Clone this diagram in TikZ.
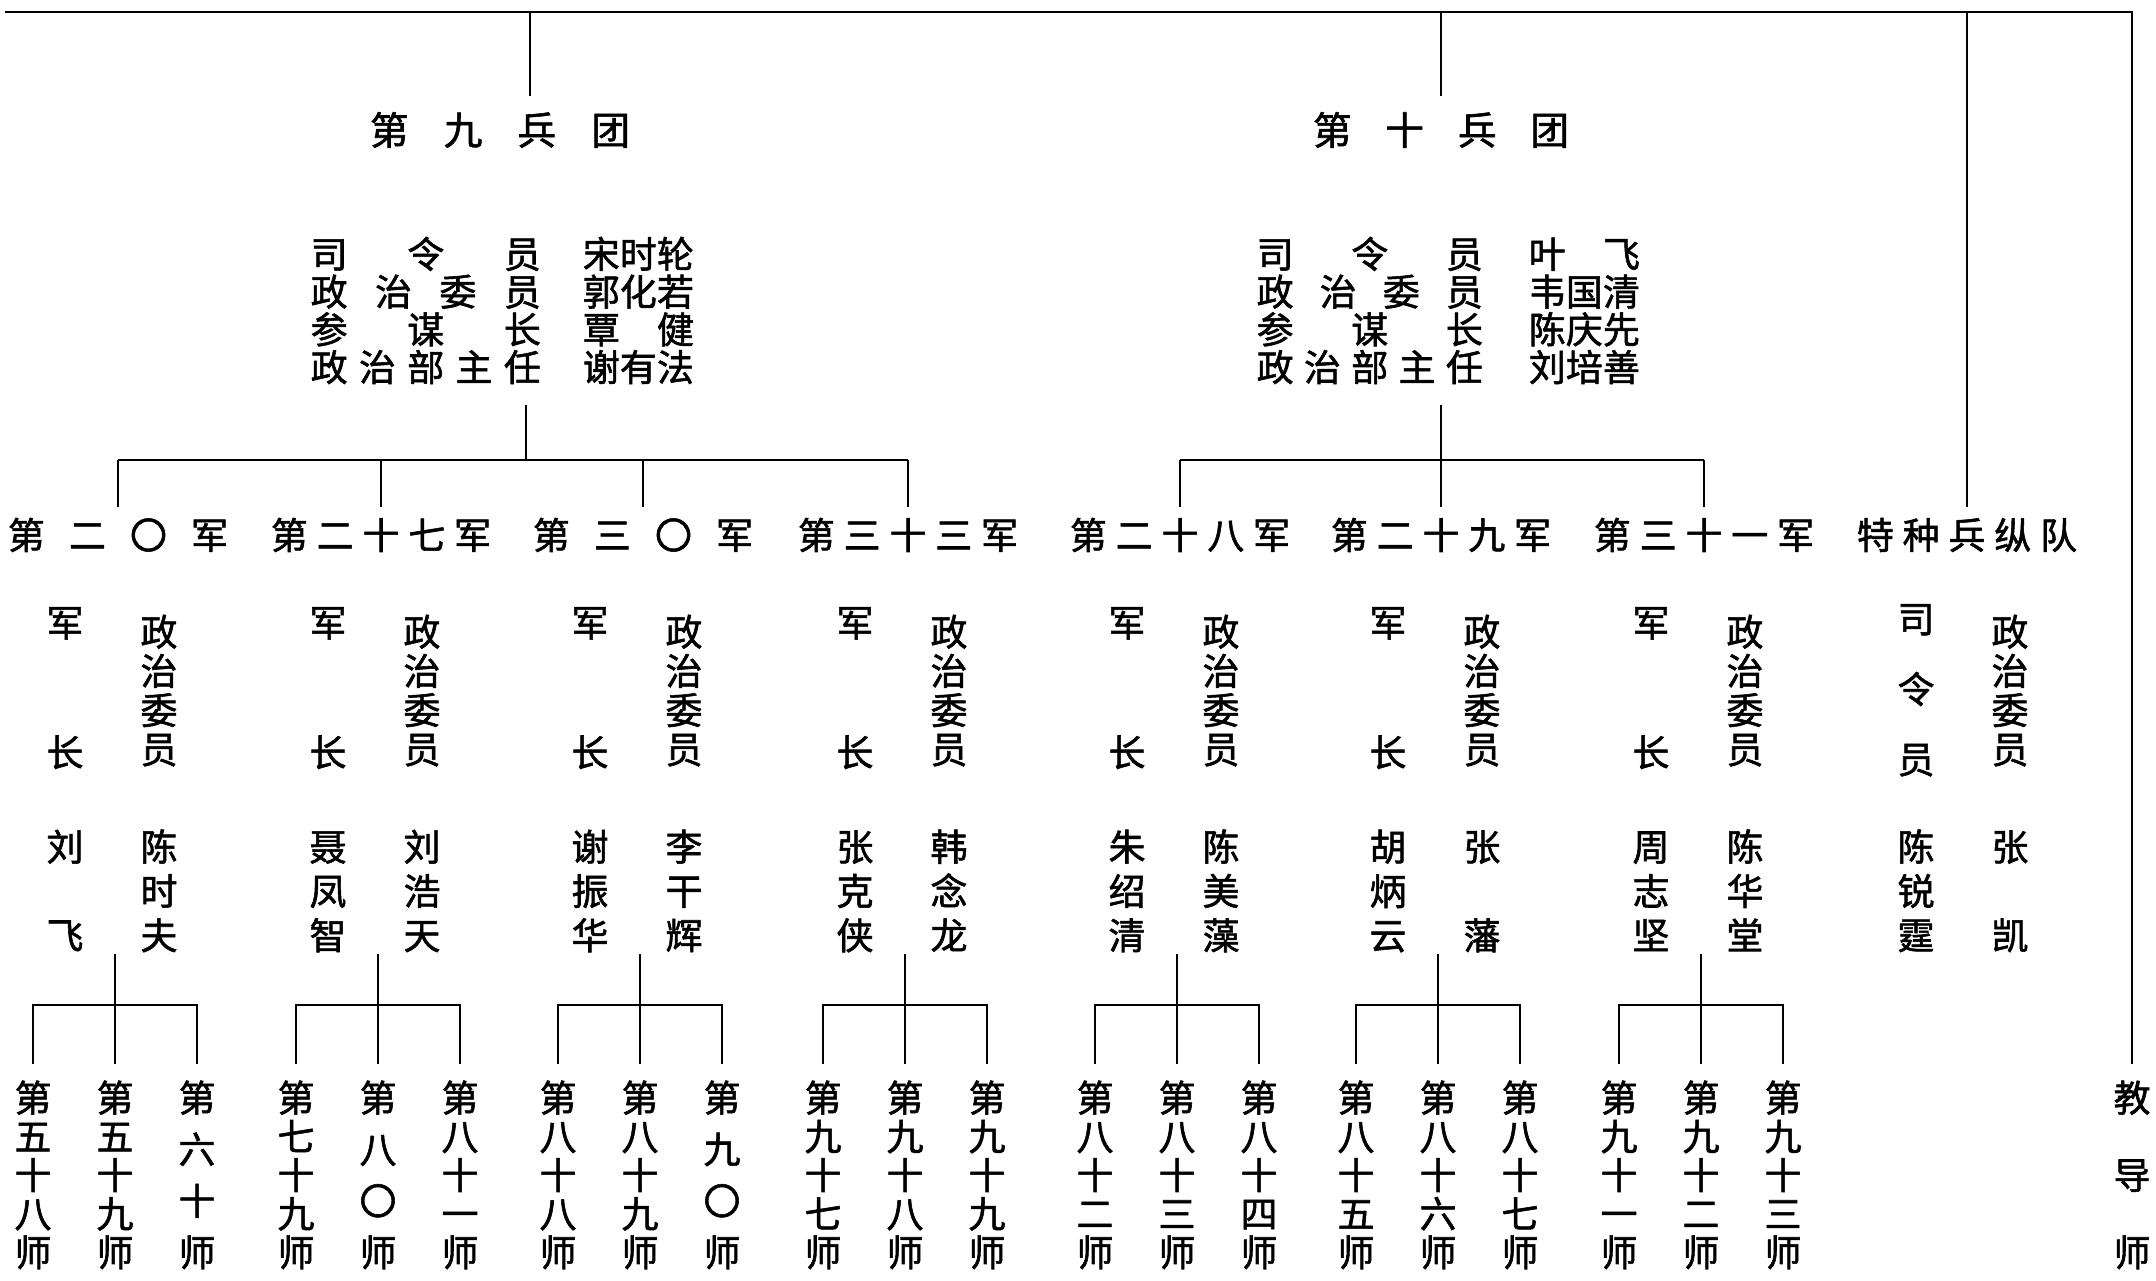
\documentclass[tikz,border=0pt]{standalone}
\usepackage{fontspec}
\newfontfamily\cjk[FakeBold=1.5]{Noto Sans CJK SC}
\usetikzlibrary{positioning}
\makeatletter
% one character on a fixed em box
\newcommand{\zi}[1]{\hbox{\vrule height .88em depth .12em width 0pt\relax #1}}
% characters spread across a given width
\newcommand{\hengpai}[2]{\hbox to #1{\edef\heng@tmp{#2}\expandafter\heng@a\heng@tmp\@nil}}
\def\heng@a#1{\zi{#1}\heng@b}
\def\heng@b#1{\ifx#1\@nil\else\hfill\zi{#1}\expandafter\heng@b\fi}
% characters spread down a given height
\newcommand{\shupai}[2]{\vbox to #1{\offinterlineskip\edef\shu@tmp{#2}\expandafter\shu@a\shu@tmp\@nil}}
\def\shu@a#1{\zi{#1}\shu@b}
\def\shu@b#1{\ifx#1\@nil\else\vfill\zi{#1}\expandafter\shu@b\fi}
\makeatother
\tikzset{conn/.style={line width=0.6pt}}
\tikzset{topline/.style={line width=0.8pt}}
\tikzset{corps/.style={inner sep=0pt,outer ysep=0.15cm,font=\cjk\fontsize{11}{12}\selectfont}}
\tikzset{staff/.style={inner sep=0pt,outer ysep=0.19cm,align=left,font=\cjk\fontsize{10.5}{10.73}\selectfont}}
\tikzset{army/.style={inner sep=0pt,outer ysep=0.1cm,font=\cjk\fontsize{10.5}{11}\selectfont}}
\tikzset{officer/.style={inner sep=0pt,font=\cjk\fontsize{10.5}{11}\selectfont}}
\tikzset{division/.style={inner sep=0pt,outer ysep=0.15cm,font=\cjk\fontsize{10.5}{11}\selectfont}}

\begin{document}
\begin{tikzpicture}[x=0.01cm,y=-0.01cm]
  \useasboundingbox (0,0) rectangle (2156,1281);
  \coordinate (topl) at (5,12);
  \coordinate (bar) at (0,460);
  \coordinate (bard) at (0,1005);

  % Corps and their staff
  \node[corps] (bt9) at (500,130) {\hengpai{2.6cm}{第九兵团}};
  \node[corps] (bt10) at (1441,130) {\hengpai{2.56cm}{第十兵团}};
  \node[staff,anchor=west] (cmd9) at (310,310.5)
    {\hengpai{2.3cm}{司令员}\hspace{0.42cm}\hengpai{1.11cm}{宋时轮}\\
     \hengpai{2.3cm}{政治委员}\hspace{0.42cm}\hengpai{1.11cm}{郭化若}\\
     \hengpai{2.3cm}{参谋长}\hspace{0.42cm}\hengpai{1.11cm}{覃健}\\
     \hengpai{2.3cm}{政治部主任}\hspace{0.42cm}\hengpai{1.11cm}{谢有法}};
  \node[staff,anchor=west] (cmd10) at (1256,310.5)
    {\hengpai{2.26cm}{司令员}\hspace{0.46cm}\hengpai{1.11cm}{叶飞}\\
     \hengpai{2.26cm}{政治委员}\hspace{0.46cm}\hengpai{1.11cm}{韦国清}\\
     \hengpai{2.26cm}{参谋长}\hspace{0.46cm}\hengpai{1.11cm}{陈庆先}\\
     \hengpai{2.26cm}{政治部主任}\hspace{0.46cm}\hengpai{1.11cm}{刘培善}};

  % Armies with their officers and divisions
  \foreach \x/\id/\jun/\jz/\zw/\da/\db/\dc in {
      118/20/第二〇军/刘飞/陈时夫/第五十八师/第五十九师/第六十师,
      381/27/第二十七军/聂凤智/刘浩天/第七十九师/第八〇师/第八十一师,
      643/30/第三〇军/谢振华/李干辉/第八十八师/第八十九师/第九〇师,
      908/33/第三十三军/张克侠/韩念龙/第九十七师/第九十八师/第九十九师,
      1180/28/第二十八军/朱绍清/陈美藻/第八十二师/第八十三师/第八十四师,
      1441/29/第二十九军/胡炳云/张藩/第八十五师/第八十六师/第八十七师,
      1704/31/第三十一军/周志坚/陈华堂/第九十一师/第九十二师/第九十三师}{
    \node[army] (army\id) at (\x,535) {\hengpai{2.2cm}{\jun}};
    \node[officer] (jzt\id) at (\x-53,687.5) {\shupai{1.62cm}{军长}};
    \node[officer] (zwt\id) at (\x+41,690.5) {\shupai{1.5cm}{政治委员}};
    \node[officer] (jzn\id) at (\x-53,891) {\shupai{1.21cm}{\jz}};
    \node[officer] (zwn\id) at (\x+41,891) {\shupai{1.21cm}{\zw}};
    \node[division] (da\id) at (\x-85,1175) {\shupai{1.87cm}{\da}};
    \node[division] (db\id) at (\x-3,1175) {\shupai{1.87cm}{\db}};
    \node[division] (dc\id) at (\x+79,1175) {\shupai{1.87cm}{\dc}};
    \draw[conn] (army\id.north) -- (army\id.north |- bar);
    \draw[conn] (db\id.north) -- (db\id.north |- zwn\id.south);
    \draw[conn] (da\id.north) |- (dc\id.north |- bard) -- (dc\id.north);
  }

  % Special arms column and training division
  \node[army] (armytz) at (1967,535) {\hengpai{2.2cm}{特种兵纵队}};
  \node[officer] (slt) at (1916,689) {\shupai{1.73cm}{司令员}};
  \node[officer] (zwttz) at (2010,690.5) {\shupai{1.5cm}{政治委员}};
  \node[officer] (sln) at (1916,891) {\shupai{1.21cm}{陈锐霆}};
  \node[officer] (zwntz) at (2010,891) {\shupai{1.21cm}{张凯}};
  \node[division] (jdsh) at (2132,1175) {\shupai{1.87cm}{教导师}};

  % Connectors
  \draw[topline] (topl) -| (jdsh.north);
  \draw[conn] ([xshift=0.3cm]bt9.north) -- ([xshift=0.3cm]bt9.north |- topl);
  \draw[conn] (bt10.north) -- (bt10.north |- topl);
  \draw[conn] (armytz.north) -- (armytz.north |- topl);
  \draw[conn] ([xshift=0.235cm]cmd9.south) -- ([xshift=0.235cm]cmd9.south |- bar);
  \draw[conn] (bt10 |- cmd10.south) -- (bt10 |- bar);
  \draw[conn] (army20.north |- bar) -- (army33.north |- bar);
  \draw[conn] (army28.north |- bar) -- (army31.north |- bar);
\end{tikzpicture}
\end{document}
